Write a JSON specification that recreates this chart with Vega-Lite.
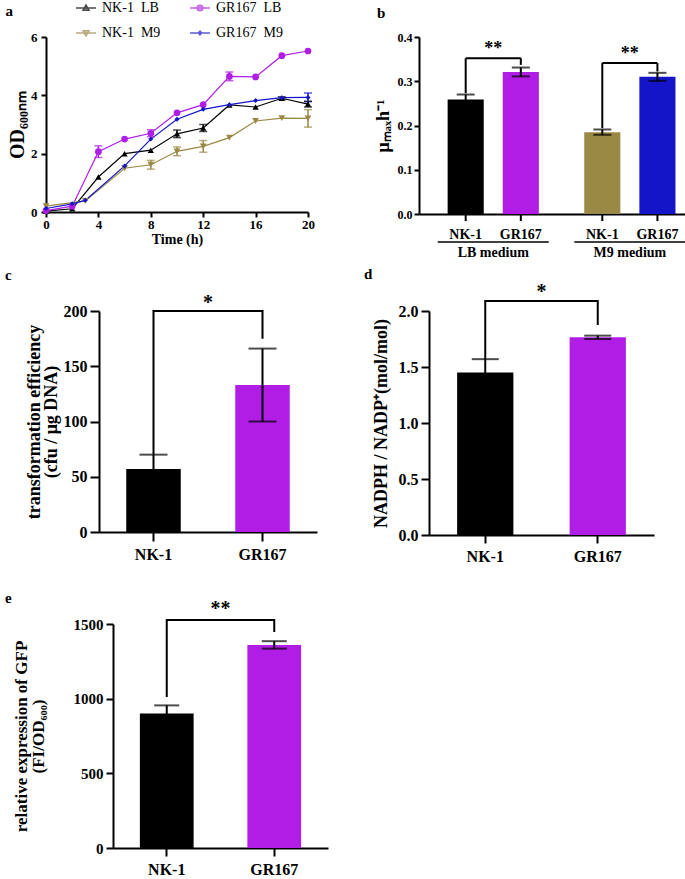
{
  "$schema": "https://vega.github.io/schema/vega-lite/v6.json",
  "padding": {"left": 4, "top": 0, "right": 0, "bottom": 0},
  "background": "white",
  "config": {
    "font": "Liberation Serif",
    "view": {"stroke": null},
    "axis": {
      "grid": false,
      "domainColor": "black", "domainWidth": 2,
      "tickColor": "black", "tickWidth": 2, "tickSize": 7,
      "labelColor": "black", "labelFont": "Liberation Serif", "labelFontWeight": "bold", "labelFontSize": 16,
      "titleColor": "black", "titleFont": "Liberation Serif", "titleFontWeight": "bold", "titleFontSize": 17,
      "labelOverlap": false
    },
    "axisX": {"labelAngle": 0},
    "title": {"font": "Liberation Serif", "fontWeight": "bold", "fontSize": 15, "anchor": "start", "color": "black", "frame": "bounds"},
    "text": {"font": "Liberation Serif", "fontWeight": "bold", "color": "black"}
  },
  "datasets": {
    "none": [],
    "a": [
      {"series": "NK-1 LB", "t": 0, "od": 0.03, "err": 0},
      {"series": "NK-1 LB", "t": 2, "od": 0.11, "err": 0},
      {"series": "NK-1 LB", "t": 4, "od": 1.2, "err": 0},
      {"series": "NK-1 LB", "t": 6, "od": 2.0, "err": 0},
      {"series": "NK-1 LB", "t": 8, "od": 2.12, "err": 0},
      {"series": "NK-1 LB", "t": 10, "od": 2.68, "err": 0.13},
      {"series": "NK-1 LB", "t": 12, "od": 2.88, "err": 0.12},
      {"series": "NK-1 LB", "t": 14, "od": 3.67, "err": 0},
      {"series": "NK-1 LB", "t": 16, "od": 3.6, "err": 0},
      {"series": "NK-1 LB", "t": 18, "od": 3.9, "err": 0.05},
      {"series": "NK-1 LB", "t": 20, "od": 3.7, "err": 0.1},
      {"series": "GR167 LB", "t": 0, "od": 0.05, "err": 0},
      {"series": "GR167 LB", "t": 2, "od": 0.2, "err": 0},
      {"series": "GR167 LB", "t": 4, "od": 2.07, "err": 0.2},
      {"series": "GR167 LB", "t": 6, "od": 2.5, "err": 0},
      {"series": "GR167 LB", "t": 8, "od": 2.7, "err": 0.12},
      {"series": "GR167 LB", "t": 10, "od": 3.4, "err": 0},
      {"series": "GR167 LB", "t": 12, "od": 3.68, "err": 0},
      {"series": "GR167 LB", "t": 14, "od": 4.65, "err": 0.15},
      {"series": "GR167 LB", "t": 16, "od": 4.63, "err": 0},
      {"series": "GR167 LB", "t": 18, "od": 5.36, "err": 0},
      {"series": "GR167 LB", "t": 20, "od": 5.52, "err": 0},
      {"series": "NK-1 M9", "t": 0, "od": 0.2, "err": 0},
      {"series": "NK-1 M9", "t": 3, "od": 0.38, "err": 0},
      {"series": "NK-1 M9", "t": 6, "od": 1.5, "err": 0},
      {"series": "NK-1 M9", "t": 8, "od": 1.62, "err": 0.15},
      {"series": "NK-1 M9", "t": 10, "od": 2.08, "err": 0.15},
      {"series": "NK-1 M9", "t": 12, "od": 2.25, "err": 0.2},
      {"series": "NK-1 M9", "t": 14, "od": 2.55, "err": 0},
      {"series": "NK-1 M9", "t": 16, "od": 3.12, "err": 0},
      {"series": "NK-1 M9", "t": 18, "od": 3.22, "err": 0},
      {"series": "NK-1 M9", "t": 20, "od": 3.21, "err": 0.3},
      {"series": "GR167 M9", "t": 0, "od": 0.12, "err": 0},
      {"series": "GR167 M9", "t": 2, "od": 0.28, "err": 0},
      {"series": "GR167 M9", "t": 3, "od": 0.4, "err": 0},
      {"series": "GR167 M9", "t": 6, "od": 1.58, "err": 0},
      {"series": "GR167 M9", "t": 8, "od": 2.5, "err": 0},
      {"series": "GR167 M9", "t": 10, "od": 3.18, "err": 0},
      {"series": "GR167 M9", "t": 12, "od": 3.52, "err": 0},
      {"series": "GR167 M9", "t": 14, "od": 3.68, "err": 0},
      {"series": "GR167 M9", "t": 16, "od": 3.82, "err": 0},
      {"series": "GR167 M9", "t": 18, "od": 3.92, "err": 0},
      {"series": "GR167 M9", "t": 20, "od": 3.93, "err": 0.15}
    ],
    "b_bars": [
      {"medium": "LB", "strain": "NK-1", "grp": "LB NK-1", "v": 0.259, "err": 0.011, "leg": 0.273, "brk": 0.352},
      {"medium": "LB", "strain": "GR167", "grp": "LB GR167", "v": 0.321, "err": 0.01, "leg": 0.337, "brk": 0.352},
      {"medium": "M9", "strain": "NK-1", "grp": "M9 NK-1", "v": 0.185, "err": 0.006, "leg": 0.194, "brk": 0.341},
      {"medium": "M9", "strain": "GR167", "grp": "M9 GR167", "v": 0.31, "err": 0.009, "leg": 0.322, "brk": 0.341}
    ],
    "b_groups": [
      {"medium": "LB", "name": "LB medium", "brk": 0.352, "star": 0.372, "s": "**"},
      {"medium": "M9", "name": "M9 medium", "brk": 0.341, "star": 0.361, "s": "**"}
    ],
    "c": [
      {"strain": "NK-1", "v": 57, "err": 13},
      {"strain": "GR167", "v": 133, "err": 33}
    ],
    "c_brk": [
      {"strain": "NK-1", "y": 70, "o": 1},
      {"strain": "NK-1", "y": 200, "o": 2},
      {"strain": "GR167", "y": 200, "o": 3},
      {"strain": "GR167", "y": 175, "o": 4}
    ],
    "c_star": [{"strain": "NK-1", "y": 207, "s": "*"}],
    "d": [
      {"strain": "NK-1", "v": 1.45, "err": 0.12},
      {"strain": "GR167", "v": 1.765, "err": 0.015}
    ],
    "d_brk": [
      {"strain": "NK-1", "y": 1.57, "o": 1},
      {"strain": "NK-1", "y": 2.09, "o": 2},
      {"strain": "GR167", "y": 2.09, "o": 3},
      {"strain": "GR167", "y": 1.875, "o": 4}
    ],
    "d_star": [{"strain": "NK-1", "y": 2.17, "s": "*"}],
    "e": [
      {"strain": "NK-1", "v": 900, "err": 55},
      {"strain": "GR167", "v": 1360, "err": 25}
    ],
    "e_brk": [
      {"strain": "NK-1", "y": 1011, "o": 1},
      {"strain": "NK-1", "y": 1527, "o": 2},
      {"strain": "GR167", "y": 1527, "o": 3},
      {"strain": "GR167", "y": 1446, "o": 4}
    ],
    "e_star": [{"strain": "NK-1", "y": 1600, "s": "**"}]
  },
  "spacing": 27,
  "vconcat": [
    {
      "spacing": 6,
      "vconcat": [
        {
          "spacing": 0,
          "hconcat": [
            {"width": 1, "height": 1, "data": {"name": "none"}, "mark": {"type": "point", "opacity": 0}},
            {
              "spacing": 59,
              "hconcat": [
                {
                  "title": {"text": "a", "dx": -2, "offset": 12},
                  "width": 262,
                  "height": 175,
                  "data": {"name": "a"},
                  "layer": [
                    {
                      "mark": {"type": "line", "strokeWidth": 1.2},
                      "encoding": {
                        "x": {"field": "t", "type": "quantitative", "title": "Time (h)", "scale": {"domain": [0, 20], "nice": false},
                              "axis": {"values": [0, 2, 4, 6, 8, 10, 12, 14, 16, 18, 20], "labelFontSize": 13, "titleFontSize": 14, "tickSize": 5, "labelPadding": 1, "titlePadding": 1, "labelFlush": false}},
                        "y": {"field": "od", "type": "quantitative", "title": "OD₆₀₀ₙₘ", "scale": {"domain": [0, 6], "nice": false},
                              "axis": {"values": [0, 2, 4, 6], "titleFontSize": 20, "labelFontSize": 13, "tickSize": 5, "labelPadding": 4, "titlePadding": 3}},
                        "color": {"field": "series", "type": "nominal", "legend": null,
                                  "scale": {"domain": ["NK-1 LB", "GR167 LB", "NK-1 M9", "GR167 M9"], "range": ["#000000", "#B01EE6", "#9A8845", "#1414C8"]}},
                        "order": {"field": "t", "type": "quantitative"}
                      }
                    },
                    {
                      "transform": [{"filter": "datum.err > 0"}],
                      "mark": {"type": "errorbar", "ticks": {"size": 8}, "thickness": 1.5},
                      "encoding": {
                        "x": {"field": "t", "type": "quantitative", "title": "Time (h)"},
                        "y": {"field": "od", "type": "quantitative", "title": "OD₆₀₀ₙₘ"},
                        "yError": {"field": "err"},
                        "color": {"field": "series", "type": "nominal", "legend": null}
                      }
                    },
                    {
                      "transform": [{"filter": "datum.series == 'NK-1 LB'"}],
                      "mark": {"type": "point", "filled": true, "opacity": 1, "size": 40, "shape": "triangle-up"},
                      "encoding": {
                        "x": {"field": "t", "type": "quantitative", "title": "Time (h)"},
                        "y": {"field": "od", "type": "quantitative", "title": "OD₆₀₀ₙₘ"},
                        "color": {"field": "series", "type": "nominal", "legend": null}
                      }
                    },
                    {
                      "transform": [{"filter": "datum.series == 'GR167 LB'"}],
                      "mark": {"type": "point", "filled": true, "opacity": 1, "size": 45, "shape": "circle"},
                      "encoding": {
                        "x": {"field": "t", "type": "quantitative", "title": "Time (h)"},
                        "y": {"field": "od", "type": "quantitative", "title": "OD₆₀₀ₙₘ"},
                        "color": {"field": "series", "type": "nominal", "legend": null}
                      }
                    },
                    {
                      "transform": [{"filter": "datum.series == 'NK-1 M9'"}],
                      "mark": {"type": "point", "filled": true, "opacity": 1, "size": 45, "shape": "triangle-down"},
                      "encoding": {
                        "x": {"field": "t", "type": "quantitative", "title": "Time (h)"},
                        "y": {"field": "od", "type": "quantitative", "title": "OD₆₀₀ₙₘ"},
                        "color": {"field": "series", "type": "nominal", "legend": null}
                      }
                    },
                    {
                      "transform": [{"filter": "datum.series == 'GR167 M9'"}],
                      "mark": {"type": "point", "filled": true, "opacity": 1, "size": 25, "shape": "diamond"},
                      "encoding": {
                        "x": {"field": "t", "type": "quantitative", "title": "Time (h)"},
                        "y": {"field": "od", "type": "quantitative", "title": "OD₆₀₀ₙₘ"},
                        "color": {"field": "series", "type": "nominal", "legend": null}
                      }
                    },
                    {
                      "transform": [{"filter": "false"}],
                      "mark": {"type": "point", "filled": true, "size": 196, "strokeWidth": 1.3},
                      "encoding": {
                        "x": {"field": "t", "type": "quantitative", "title": "Time (h)"},
                        "y": {"field": "od", "type": "quantitative", "title": "OD₆₀₀ₙₘ"},
                        "fill": {"field": "series", "type": "nominal",
                                 "scale": {"domain": ["NK-1 LB", "GR167 LB", "NK-1 M9", "GR167 M9"], "range": ["#000000", "#B01EE6", "#9A8845", "#1414C8"]},
                                 "legend": {"orient": "none", "legendX": 74, "legendY": -37, "columns": 2, "direction": "horizontal", "title": null, "labelFont": "Liberation Serif", "labelFontSize": 14, "labelColor": "black", "labelOffset": 8, "columnPadding": 26, "rowPadding": 10, "symbolSize": 196, "symbolStrokeWidth": 1.3, "labelExpr": "replace(datum.label, ' ', '\u00a0\u00a0')"}},
                        "stroke": {"field": "series", "type": "nominal",
                                 "scale": {"domain": ["NK-1 LB", "GR167 LB", "NK-1 M9", "GR167 M9"], "range": ["#000000", "#B01EE6", "#9A8845", "#1414C8"]},
                                 "legend": {"orient": "none", "legendX": 74, "legendY": -37, "columns": 2, "direction": "horizontal", "title": null, "labelFont": "Liberation Serif", "labelFontSize": 14, "labelColor": "black", "labelOffset": 8, "columnPadding": 26, "rowPadding": 10, "symbolSize": 196, "symbolStrokeWidth": 1.3, "labelExpr": "replace(datum.label, ' ', '\u00a0\u00a0')"}},
                        "shape": {"field": "series", "type": "nominal",
                                  "scale": {"domain": ["NK-1 LB", "GR167 LB", "NK-1 M9", "GR167 M9"],
                                            "range": ["M-1.43,0H1.43M0,-0.45L0.45,0.35H-0.45Z", "M-1.43,0H1.43M0.42,0A0.42,0.42,0,1,1,-0.42,0A0.42,0.42,0,1,1,0.42,0Z", "M-1.43,0H1.43M0,0.45L0.45,-0.35H-0.45Z", "M-1.43,0H1.43M0,-0.3L0.25,0L0,0.3L-0.25,0Z"]},
                                  "legend": {"orient": "none", "legendX": 74, "legendY": -37, "columns": 2, "direction": "horizontal", "title": null, "labelFont": "Liberation Serif", "labelFontSize": 14, "labelColor": "black", "labelOffset": 8, "columnPadding": 26, "rowPadding": 10, "symbolSize": 196, "symbolStrokeWidth": 1.3, "labelExpr": "replace(datum.label, ' ', '\u00a0\u00a0')"}}
                      }
                    }
                  ]
                },
                {
                  "title": {"text": "b", "dx": 3, "offset": 10},
                  "width": 275,
                  "height": 177,
                  "layer": [
                    {
                      "data": {"name": "b_bars"},
                      "mark": {"type": "bar"},
                      "encoding": {
                        "x": {"field": "medium", "type": "nominal", "title": null,
                              "scale": {"domain": ["LB", "M9"], "paddingInner": 0.187, "paddingOuter": 0.1, "align": 0.685},
                              "axis": {"labels": false, "ticks": false, "domain": true}},
                        "xOffset": {"field": "strain", "type": "nominal", "scale": {"domain": ["NK-1", "GR167"], "paddingInner": 0.345, "paddingOuter": 0.18}},
                        "y": {"field": "v", "type": "quantitative", "title": "μₘₐₓh⁻¹", "scale": {"domain": [0, 0.4], "nice": false},
                              "axis": {"values": [0, 0.1, 0.2, 0.3, 0.4], "format": ".1f", "labelFontSize": 12, "tickSize": 5, "labelPadding": 2, "titlePadding": 5, "titleFontSize": 18}},
                        "color": {"field": "grp", "type": "nominal", "legend": null,
                                  "scale": {"domain": ["LB NK-1", "LB GR167", "M9 NK-1", "M9 GR167"], "range": ["#000000", "#AB0FE0", "#8B7B3B", "#0000C2"]}}
                      }
                    },
                    {
                      "data": {"name": "b_bars"},
                      "mark": {"type": "errorbar", "ticks": {"size": 18}, "thickness": 2, "color": "black"},
                      "encoding": {
                        "x": {"field": "medium", "type": "nominal", "title": null},
                        "xOffset": {"field": "strain", "type": "nominal"},
                        "y": {"field": "v", "type": "quantitative", "title": "μₘₐₓh⁻¹"},
                        "yError": {"field": "err"}
                      }
                    },
                    {
                      "data": {"name": "b_bars"},
                      "mark": {"type": "rule", "strokeWidth": 2, "color": "black"},
                      "encoding": {
                        "x": {"field": "medium", "type": "nominal", "title": null},
                        "xOffset": {"field": "strain", "type": "nominal"},
                        "y": {"field": "leg", "type": "quantitative", "title": "μₘₐₓh⁻¹"},
                        "y2": {"field": "brk"}
                      }
                    },
                    {
                      "data": {"name": "b_bars"},
                      "mark": {"type": "rule", "strokeWidth": 2, "color": "black"},
                      "encoding": {
                        "x": {"field": "medium", "type": "nominal", "title": null},
                        "xOffset": {"field": "strain", "type": "nominal"},
                        "y": {"datum": 0, "type": "quantitative", "title": "μₘₐₓh⁻¹"},
                        "y2": {"datum": -0.016}
                      }
                    },
                    {
                      "data": {"name": "b_bars"},
                      "mark": {"type": "text", "fontSize": 14, "baseline": "middle"},
                      "encoding": {
                        "x": {"field": "medium", "type": "nominal", "title": null},
                        "xOffset": {"field": "strain", "type": "nominal"},
                        "y": {"datum": -0.048, "type": "quantitative", "title": "μₘₐₓh⁻¹"},
                        "text": {"field": "strain"}
                      }
                    },
                    {
                      "data": {"name": "b_groups"},
                      "mark": {"type": "tick", "orient": "horizontal", "size": 55, "thickness": 2, "color": "black", "opacity": 1},
                      "encoding": {
                        "x": {"field": "medium", "type": "nominal", "title": null},
                        "y": {"field": "brk", "type": "quantitative", "title": "μₘₐₓh⁻¹"}
                      }
                    },
                    {
                      "data": {"name": "b_groups"},
                      "mark": {"type": "tick", "orient": "horizontal", "size": 111, "thickness": 1.5, "color": "black", "opacity": 1},
                      "encoding": {
                        "x": {"field": "medium", "type": "nominal", "title": null},
                        "y": {"datum": -0.063, "type": "quantitative", "title": "μₘₐₓh⁻¹"}
                      }
                    },
                    {
                      "data": {"name": "b_groups"},
                      "mark": {"type": "text", "fontSize": 14, "baseline": "middle"},
                      "encoding": {
                        "x": {"field": "medium", "type": "nominal", "title": null},
                        "y": {"datum": -0.088, "type": "quantitative", "title": "μₘₐₓh⁻¹"},
                        "text": {"field": "name"}
                      }
                    },
                    {
                      "data": {"name": "b_groups"},
                      "mark": {"type": "text", "fontSize": 18, "baseline": "middle"},
                      "encoding": {
                        "x": {"field": "medium", "type": "nominal", "title": null},
                        "y": {"field": "star", "type": "quantitative", "title": "μₘₐₓh⁻¹"},
                        "text": {"field": "s"}
                      }
                    }
                  ]
                }
              ]
            }
          ]
        },
        {
          "spacing": 0,
          "hconcat": [
            {"width": 1, "height": 1, "data": {"name": "none"}, "mark": {"type": "point", "opacity": 0}},
            {
              "spacing": 47,
              "hconcat": [
                {
                  "title": {"text": "c", "dx": -20, "offset": 10},
                  "width": 218,
                  "height": 221,
                  "layer": [
                    {
                      "data": {"name": "c"},
                      "mark": {"type": "bar", "width": {"band": 0.5}},
                      "encoding": {
                        "x": {"field": "strain", "type": "nominal", "title": null, "scale": {"domain": ["NK-1", "GR167"], "paddingInner": 0, "paddingOuter": 0},
                              "axis": {"tickSize": 9, "labelPadding": 5}},
                        "y": {"field": "v", "type": "quantitative", "title": ["transformation efficiency", "(cfu / μg DNA)"], "scale": {"domain": [0, 200], "nice": false},
                              "axis": {"values": [0, 50, 100, 150, 200], "tickSize": 9, "labelPadding": 3, "titlePadding": 3, "titleFontSize": 18, "titleLineHeight": 17}},
                        "color": {"field": "strain", "type": "nominal", "legend": null, "scale": {"domain": ["NK-1", "GR167"], "range": ["#000000", "#AB0FE0"]}}
                      }
                    },
                    {
                      "data": {"name": "c"},
                      "mark": {"type": "errorbar", "ticks": {"size": 28}, "thickness": 2, "color": "black"},
                      "encoding": {
                        "x": {"field": "strain", "type": "nominal", "title": null},
                        "y": {"field": "v", "type": "quantitative", "title": ["transformation efficiency", "(cfu / μg DNA)"]},
                        "yError": {"field": "err"}
                      }
                    },
                    {
                      "data": {"name": "c_brk"},
                      "mark": {"type": "line", "color": "black", "strokeWidth": 2},
                      "encoding": {
                        "x": {"field": "strain", "type": "nominal", "title": null},
                        "y": {"field": "y", "type": "quantitative", "title": ["transformation efficiency", "(cfu / μg DNA)"]},
                        "order": {"field": "o", "type": "quantitative"}
                      }
                    },
                    {
                      "data": {"name": "c_star"},
                      "mark": {"type": "text", "fontSize": 20, "baseline": "middle"},
                      "encoding": {
                        "x": {"field": "strain", "type": "nominal", "bandPosition": 1, "title": null},
                        "y": {"field": "y", "type": "quantitative", "title": ["transformation efficiency", "(cfu / μg DNA)"]},
                        "text": {"field": "s"}
                      }
                    }
                  ]
                },
                {
                  "title": {"text": "d", "dx": -8, "offset": 0},
                  "width": 225,
                  "height": 224,
                  "layer": [
                    {
                      "data": {"name": "d"},
                      "mark": {"type": "bar", "width": {"band": 0.5}},
                      "encoding": {
                        "x": {"field": "strain", "type": "nominal", "title": null, "scale": {"domain": ["NK-1", "GR167"], "paddingInner": 0, "paddingOuter": 0},
                              "axis": {"tickSize": 8, "labelPadding": 5}},
                        "y": {"field": "v", "type": "quantitative", "title": "NADPH / NADP⁺(mol/mol)", "scale": {"domain": [0, 2], "nice": false},
                              "axis": {"values": [0, 0.5, 1, 1.5, 2], "format": ".1f", "tickSize": 8, "labelPadding": 3, "titlePadding": 8, "titleFontSize": 18}},
                        "color": {"field": "strain", "type": "nominal", "legend": null, "scale": {"domain": ["NK-1", "GR167"], "range": ["#000000", "#AB0FE0"]}}
                      }
                    },
                    {
                      "data": {"name": "d"},
                      "mark": {"type": "errorbar", "ticks": {"size": 27}, "thickness": 2, "color": "black"},
                      "encoding": {
                        "x": {"field": "strain", "type": "nominal", "title": null},
                        "y": {"field": "v", "type": "quantitative", "title": "NADPH / NADP⁺(mol/mol)"},
                        "yError": {"field": "err"}
                      }
                    },
                    {
                      "data": {"name": "d_brk"},
                      "mark": {"type": "line", "color": "black", "strokeWidth": 2},
                      "encoding": {
                        "x": {"field": "strain", "type": "nominal", "title": null},
                        "y": {"field": "y", "type": "quantitative", "title": "NADPH / NADP⁺(mol/mol)"},
                        "order": {"field": "o", "type": "quantitative"}
                      }
                    },
                    {
                      "data": {"name": "d_star"},
                      "mark": {"type": "text", "fontSize": 20, "baseline": "middle"},
                      "encoding": {
                        "x": {"field": "strain", "type": "nominal", "bandPosition": 1, "title": null},
                        "y": {"field": "y", "type": "quantitative", "title": "NADPH / NADP⁺(mol/mol)"},
                        "text": {"field": "s"}
                      }
                    }
                  ]
                }
              ]
            }
          ]
        }
      ]
    },
    {
      "spacing": 0,
      "hconcat": [
        {"width": 1, "height": 1, "data": {"name": "none"}, "mark": {"type": "point", "opacity": 0}},
        {
          "title": {"text": "e", "dx": -7, "offset": -7},
          "width": 215,
          "height": 224,
          "layer": [
            {
              "data": {"name": "e"},
              "mark": {"type": "bar", "width": {"band": 0.5}},
              "encoding": {
                "x": {"field": "strain", "type": "nominal", "title": null, "scale": {"domain": ["NK-1", "GR167"], "paddingInner": 0, "paddingOuter": 0},
                      "axis": {"tickSize": 8, "labelPadding": 5}},
                "y": {"field": "v", "type": "quantitative", "title": ["relative expression of GFP", "(FI/OD₆₀₀)"], "scale": {"domain": [0, 1500], "nice": false},
                      "axis": {"values": [0, 500, 1000, 1500], "format": "d", "tickSize": 7, "labelPadding": 3, "titlePadding": 26, "labelFontSize": 15, "titleFontSize": 17, "titleLineHeight": 17}},
                "color": {"field": "strain", "type": "nominal", "legend": null, "scale": {"domain": ["NK-1", "GR167"], "range": ["#000000", "#AB0FE0"]}}
              }
            },
            {
              "data": {"name": "e"},
              "mark": {"type": "errorbar", "ticks": {"size": 25}, "thickness": 2, "color": "black"},
              "encoding": {
                "x": {"field": "strain", "type": "nominal", "title": null},
                "y": {"field": "v", "type": "quantitative", "title": ["relative expression of GFP", "(FI/OD₆₀₀)"]},
                "yError": {"field": "err"}
              }
            },
            {
              "data": {"name": "e_brk"},
              "mark": {"type": "line", "color": "black", "strokeWidth": 2},
              "encoding": {
                "x": {"field": "strain", "type": "nominal", "title": null},
                "y": {"field": "y", "type": "quantitative", "title": ["relative expression of GFP", "(FI/OD₆₀₀)"]},
                "order": {"field": "o", "type": "quantitative"}
              }
            },
            {
              "data": {"name": "e_star"},
              "mark": {"type": "text", "fontSize": 20, "baseline": "middle"},
              "encoding": {
                "x": {"field": "strain", "type": "nominal", "bandPosition": 1, "title": null},
                "y": {"field": "y", "type": "quantitative", "title": ["relative expression of GFP", "(FI/OD₆₀₀)"]},
                "text": {"field": "s"}
              }
            }
          ]
        }
      ]
    }
  ]
}
